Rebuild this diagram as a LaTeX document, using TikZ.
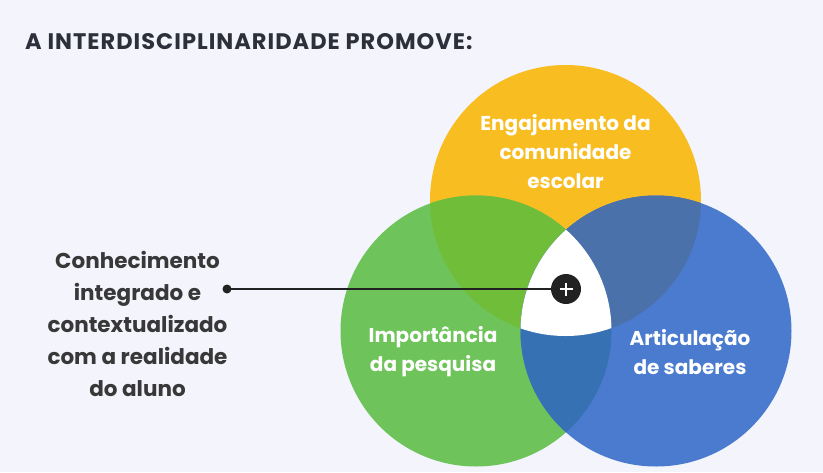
\documentclass[tikz,border=0pt]{standalone}
\usepackage{fontspec}
\setmainfont{Poppins}
\usetikzlibrary{calc}
\definecolor{fundo}{RGB}{243,244,252}
\definecolor{titulo}{RGB}{45,48,59}
\definecolor{preto}{RGB}{34,34,34}
\definecolor{amarelo}{RGB}{248,189,33}
\definecolor{verde}{RGB}{110,196,90}
\definecolor{azul}{RGB}{74,123,206}
\definecolor{verdeamarelo}{RGB}{112,189,58}
\definecolor{azulamarelo}{RGB}{74,113,170}
\definecolor{verdeazul}{RGB}{54,113,179}

\begin{document}
\begin{tikzpicture}[x=1pt, y=-1pt,
    rotulo/.style={font=\bfseries\fontsize{20}{29}\selectfont, align=center, text=white},
    lateral/.style={font=\bfseries\fontsize{21.5}{32}\selectfont, align=center, text=preto!90}]

    \fill[fundo] (0,0) rectangle (823,472);
    \useasboundingbox (0,0) rectangle (823,472);

    \node[anchor=base west, font=\bfseries\fontsize{22.5}{25}\selectfont\addfontfeature{LetterSpace=4.5}, text=titulo, inner sep=0] (titulo) at (25,49) {A INTERDISCIPLINARIDADE PROMOVE:};

    \def\raio{135.5}
    \coordinate (cEng) at (565.5,200.5);
    \coordinate (cImp) at (476,331);
    \coordinate (cArt) at (656,331);

    \fill[amarelo] (cEng) circle (\raio);
    \fill[verde] (cImp) circle (\raio);
    \fill[azul] (cArt) circle (\raio);
    \begin{scope}
        \clip (cEng) circle (\raio);
        \fill[verdeamarelo] (cImp) circle (\raio);
        \fill[azulamarelo] (cArt) circle (\raio);
    \end{scope}
    \begin{scope}
        \clip (cImp) circle (\raio);
        \fill[verdeazul] (cArt) circle (\raio);
        \clip (cArt) circle (\raio);
        \fill[white] (cEng) circle (\raio);
    \end{scope}

    \node[rotulo] (eng) at (565.5,152) {Engajamento da\\comunidade\\escolar};
    \node[rotulo] (imp) at (433,352) {Importância\\da pesquisa};
    \node[rotulo] (art) at (690,352) {Articulação\\de saberes};

    \node[lateral] (conhec) at (137.5,324) {Conhecimento\\integrado e\\contextualizado\\com a realidade\\do aluno};

    % ligacao ao centro
    \coordinate (ponto) at (227,289);
    \node[circle, fill=preto, minimum size=30pt, inner sep=0] (mais) at (566,289) {};
    \draw[preto, line width=2.8pt] (ponto) -- (mais);
    \fill[preto] (ponto) circle (4.5);
    \draw[white, line width=2pt] ($(mais)+(-6.5,0)$) -- ($(mais)+(6.5,0)$);
    \draw[white, line width=2pt] ($(mais)+(0,-6.5)$) -- ($(mais)+(0,6.5)$);

\end{tikzpicture}
\end{document}
